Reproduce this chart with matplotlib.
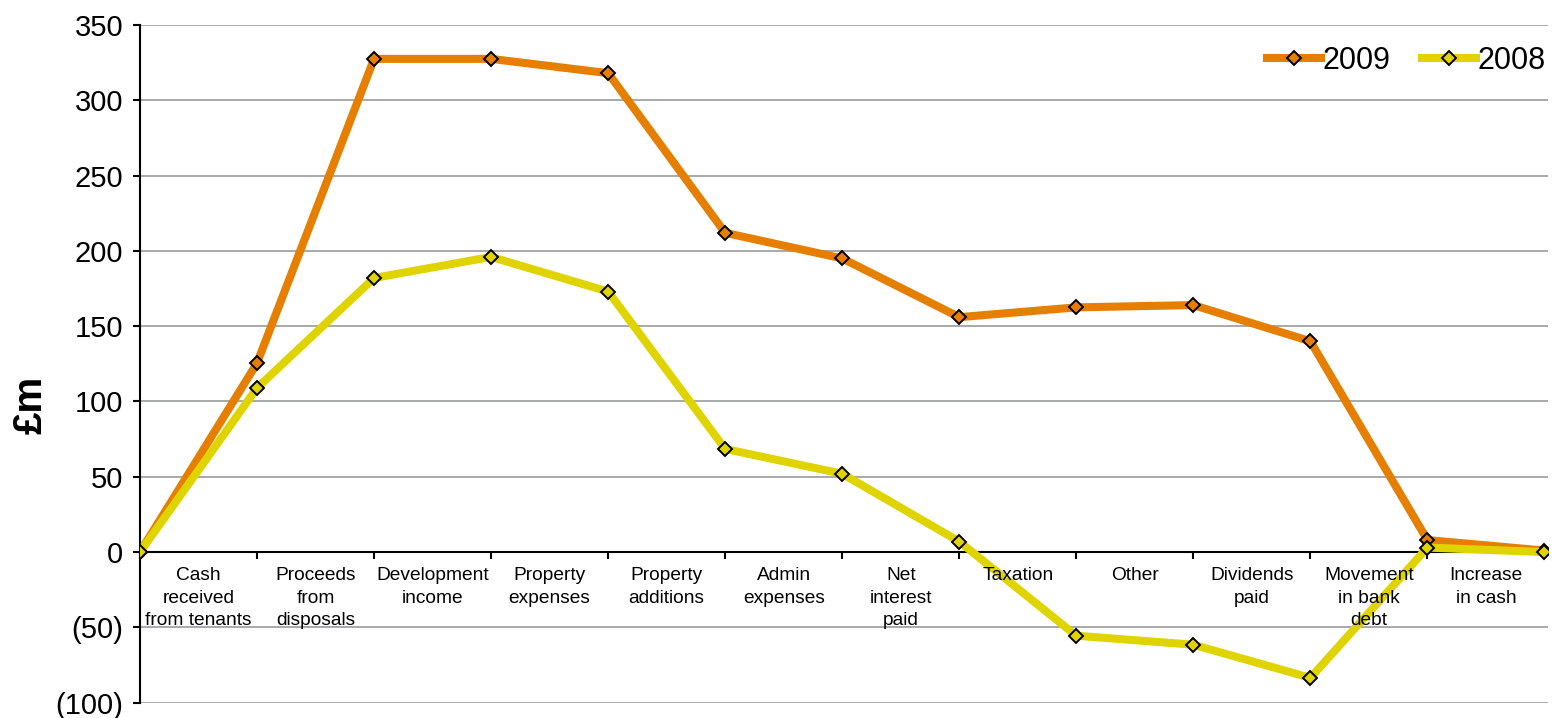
#!/usr/bin/env python3
"""cash flow line chart, 2009 vs 2008"""
import matplotlib
matplotlib.use('Agg')
import matplotlib.pyplot as plt
import numpy as np

plt.rcParams['font.family'] = ['Liberation Sans', 'DejaVu Sans']

categories = ['Cash\nreceived\nfrom tenants', 'Proceeds\nfrom\ndisposals',
              'Development\nincome', 'Property\nexpenses', 'Property\nadditions',
              'Admin\nexpenses', 'Net\ninterest\npaid', 'Taxation', 'Other',
              'Dividends\npaid', 'Movement\nin bank\ndebt', 'Increase\nin cash']
# cumulative running totals at each step boundary, £m
vals_2009 = [0, 125.5, 327.5, 327.5, 318, 212, 195, 156, 162.5, 164, 140, 8, 1]
vals_2008 = [0, 109, 182, 196, 173, 68.5, 52, 7, -55.5, -61.5, -83.5, 3, 0]
yticks = [-100, -50, 0, 50, 100, 150, 200, 250, 300, 350]

c09 = '#E67E00'
c08 = '#E0D400'

fig = plt.figure(figsize=(15.52, 7.18), dpi=100)
ax = fig.add_axes([0.0902, 0.0213, 0.9072, 0.9439])

xs = np.arange(len(vals_2009))
ax.plot(xs, vals_2009, color=c09, lw=5.8, marker='D', ms=6.8,
        mfc=c09, mec='black', mew=1.4, label='2009', zorder=3)
ax.plot(xs, vals_2008, color=c08, lw=5.8, marker='D', ms=6.8,
        mfc=c08, mec='black', mew=1.4, label='2008', zorder=4)

ax.set_xlim(0, 12.03)
ax.set_ylim(-100, 350)
ax.set_yticks(yticks)
ax.set_yticklabels([f'({-v})' if v < 0 else f'{v}' for v in yticks], fontsize=21)
ax.yaxis.grid(True, color='#A0A2A5', lw=1.3)
ax.set_axisbelow(True)

ax.set_xticks(xs)
ax.set_xticklabels([])
ax.tick_params(axis='x', direction='out', length=5, width=1.5)
ax.tick_params(axis='y', direction='out', length=5, width=1.5, pad=7)

for s in ['top', 'right']:
    ax.spines[s].set_visible(False)
ax.spines['bottom'].set_position(('data', 0))
ax.spines['left'].set_linewidth(1.5)
ax.spines['bottom'].set_linewidth(1.5)

for i, lab in enumerate(categories):
    ax.annotate(lab, (i + 0.5, 0), xytext=(0, -11), textcoords='offset points',
                ha='center', va='top', fontsize=13.8, linespacing=1.42, zorder=5)

ax.set_ylabel('£m', fontsize=29, fontweight='bold')
ax.yaxis.set_label_coords(-0.064, 0.439)

ax.legend(loc='center right', bbox_to_anchor=(0.9986, 0.947), ncol=2,
          frameon=False, fontsize=22, borderpad=0, borderaxespad=0,
          handlelength=1.77, handletextpad=0.05, columnspacing=1.05)

fig.savefig('out.png', dpi=100)
